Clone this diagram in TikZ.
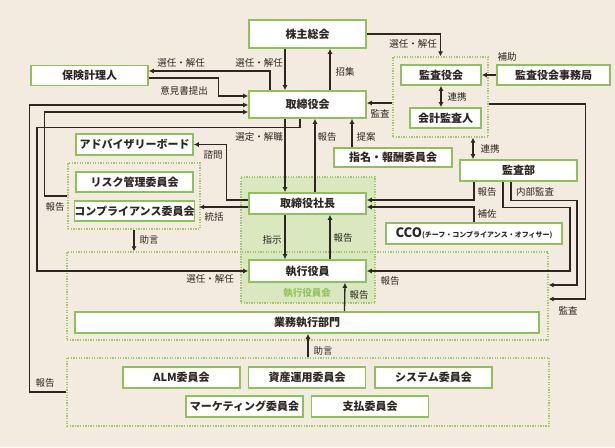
\documentclass[tikz,border=0pt]{standalone}
\usepackage{fontspec}
\setmainfont{Noto Sans CJK JP}
\usetikzlibrary{arrows.meta, calc}
\definecolor{bg}{HTML}{F3EBDF}
\definecolor{ink}{HTML}{2E2622}
\definecolor{boxgreen}{HTML}{8FC15A}
\definecolor{dotgreen}{HTML}{A3C66C}
\definecolor{grpfill}{HTML}{D9E8BE}
\definecolor{lblgreen}{HTML}{93C45E}

\begin{document}
\begin{tikzpicture}[x=1pt, y=-1pt,
	box/.style={draw=boxgreen, line width=1.6pt, fill=white, inner sep=0pt,
		minimum width=117, minimum height=21, text=ink,
		font=\fontsize{11}{12}\selectfont\bfseries},
	grp/.style={draw=dotgreen, line width=1.3pt, dash pattern=on 1.3pt off 1.3pt,
		inner sep=0pt},
	lbl/.style={text=ink, inner sep=0pt, font=\fontsize{9.5}{10}\selectfont},
	arr/.style={draw=ink, line width=1.3pt, -{Latex[length=5pt, width=5pt]}},
	darr/.style={arr, {Latex[length=5pt, width=5pt]}-{Latex[length=5pt, width=5pt]}}]
\useasboundingbox[fill=bg] (0,0) rectangle (615,447);

% groups
\node[grp, fill=grpfill, minimum width=134, minimum height=126] (shachoG) at (308,240) {};
\node[grp, minimum width=481, minimum height=88] (execG) at (307.5,296) {};
\node[grp, minimum width=95, minimum height=80] (kansaG) at (440.5,97) {};
\node[grp, minimum width=132, minimum height=66] (riskG) at (134,196) {};
\node[grp, minimum width=482, minimum height=68] (bottomG) at (308,392) {};

% boxes
\node[box, minimum height=28] (kabunushi) at (307.5,34) {株主総会};
\node[box, minimum height=27] (torishimari) at (307.5,104.5) {取締役会};
\node[box] (shacho) at (307.5,203.5) {取締役社長};
\node[box, minimum height=22] (shikko) at (307.5,271) {執行役員};
\node[box, minimum width=464] (gyomu) at (307,322.5) {業務執行部門};
\node[box, minimum height=20] (hoken) at (89.5,75.5) {保険計理人};
\node[box, minimum width=80, minimum height=20] (kansayaku) at (441,75) {監査役会};
\node[box, minimum width=71, minimum height=20] (kaikei) at (445.5,118) {会計監査人};
\node[box, minimum width=113, minimum height=20] (jimukyoku) at (553.5,75) {監査役会事務局};
\node[box] (advisory) at (134.5,144.5) {アドバイザリーボード};
\node[box, minimum height=20] (risk) at (134.5,182) {リスク管理委員会};
\node[box, minimum height=20] (comp) at (134.5,211) {コンプライアンス委員会};
\node[box, minimum width=118, minimum height=19] (shimei) at (393,157.5) {指名・報酬委員会};
\node[box] (kansabu) at (518.5,170.5) {監査部};
\node[box, minimum width=176] (cco) at (474,233.5)
	{{\fontsize{13}{14}\selectfont CCO}{\fontsize{7}{8}\selectfont (チーフ・コンプライアンス・オフィサー)}};
\node[box] (alm) at (181.5,377.5) {ALM委員会};
\node[box] (shisan) at (307,377.5) {資産運用委員会};
\node[box] (system) at (433.5,377.5) {システム委員会};
\node[box] (marketing) at (244.5,406.5) {マーケティング委員会};
\node[box] (shiharai) at (370,406.5) {支払委員会};
\node[text=lblgreen, inner sep=0pt, font=\fontsize{9.5}{10}\selectfont\bfseries] (kaigi) at (307,293) {執行役員会};

% connectors
\draw[arr] ([xshift=-22.5]kabunushi.south) -- ([xshift=-22.5]torishimari.north);
\draw[arr] ([xshift=22.5]torishimari.north) -- ([xshift=22.5]kabunushi.south);
\draw[arr] (kabunushi.east) -| (kansaG.north);
\draw[arr] ([xshift=-37.5]torishimari.north) |- ([yshift=4.5]hoken.east);
\draw[arr] ([yshift=-2.5]hoken.east) -- ++(70,0) |- ([yshift=8.5]torishimari.west);
\draw[arr] (bottomG.west) -- ++(-37,0) |- ([yshift=-0.5]torishimari.west);
\draw[arr] (riskG.west) -- ++(-23,0) |- ([yshift=-7.5]torishimari.west);
\draw[arr] ([xshift=-7.5]torishimari.south) |- ++(-263,9) |- (shikko.west);
\draw[arr] ([yshift=3.5]shacho.west) -- ++(-22,0) |- (advisory.east);
\draw[arr] ([yshift=-3.5]shacho.west) -- ++(-49,0);
\draw[arr] ([xshift=-22.5]torishimari.south) -- ([xshift=-22.5]shacho.north);
\draw[arr] ([xshift=7.5]shacho.north) -- ([xshift=7.5]torishimari.south);
\draw[arr] ([xshift=-41]shimei.north) -- ([xshift=44.5]torishimari.south);
\draw[arr] ([yshift=-6]kansaG.west) -- ([yshift=1.5]torishimari.east);
\draw[darr] (kansayaku.south) -- (kansayaku.south |- kaikei.north);
\draw[arr] (jimukyoku.west) -- (kansayaku.east);
\draw[darr] ([xshift=32.5]kansaG.south) -- ([xshift=-45.5]kansabu.north);
\draw[arr] ([yshift=-7]kansaG.east) -- ++(97,0) |- ([yshift=-3]execG.east);
\draw[arr] ([xshift=-44.5]kansabu.south) |- ([yshift=3.5]shacho.east);
\draw[arr] (cco.north) |- ([yshift=-3.5]shacho.east);
\draw[arr] ([xshift=-15.5]kansabu.south) |- ++(67,26) |- (shikko.east);
\draw[arr] ([xshift=-7.5]kansabu.south) |- ++(66,19) |- ([yshift=11]execG.east);
\draw[arr] ([xshift=-22.5]shacho.south) -- ([xshift=-22.5]shikko.north);
\draw[arr] ([xshift=22.5]shikko.north) -- ([xshift=22.5]shacho.south);
\draw[arr] ([xshift=37.5]gyomu.north) -- ([xshift=37.5]shikko.south);
\draw[arr] (riskG.south) -- (riskG.south |- execG.north);
\draw[arr] (bottomG.north) -- (bottomG.north |- gyomu.south);

% labels
\node[lbl] (l1) at (181,63) {選任・解任};
\node[lbl] (l2) at (259,63) {選任・解任};
\node[lbl] (l3) at (184,91) {意見書提出};
\node[lbl] (l4) at (345,72) {招集};
\node[lbl] (l5) at (413,44) {選任・解任};
\node[lbl] (l6) at (507,57) {補助};
\node[lbl] (l7) at (457,97) {連携};
\node[lbl] (l8) at (380,114) {監査};
\node[lbl] (l9) at (259,137) {選定・解職};
\node[lbl] (l10) at (327,137) {報告};
\node[lbl] (l11) at (366,137) {提案};
\node[lbl] (l12) at (490,149) {連携};
\node[lbl] (l13) at (213,155) {諮問};
\node[lbl] (l14) at (55,207) {報告};
\node[lbl] (l15) at (214,217) {統括};
\node[lbl] (l16) at (149,240) {助言};
\node[lbl] (l17) at (272,240) {指示};
\node[lbl] (l18) at (343,238) {報告};
\node[lbl] (l19) at (487,192) {報告};
\node[lbl] (l20) at (535,192) {内部監査};
\node[lbl] (l21) at (487,214) {補佐};
\node[lbl] (l22) at (210,279) {選任・解任};
\node[lbl] (l23) at (359,295) {報告};
\node[lbl] (l24) at (390,281) {報告};
\node[lbl] (l25) at (568,311) {監査};
\node[lbl] (l26) at (323,351) {助言};
\node[lbl] (l27) at (45,383) {報告};
\end{tikzpicture}
\end{document}
